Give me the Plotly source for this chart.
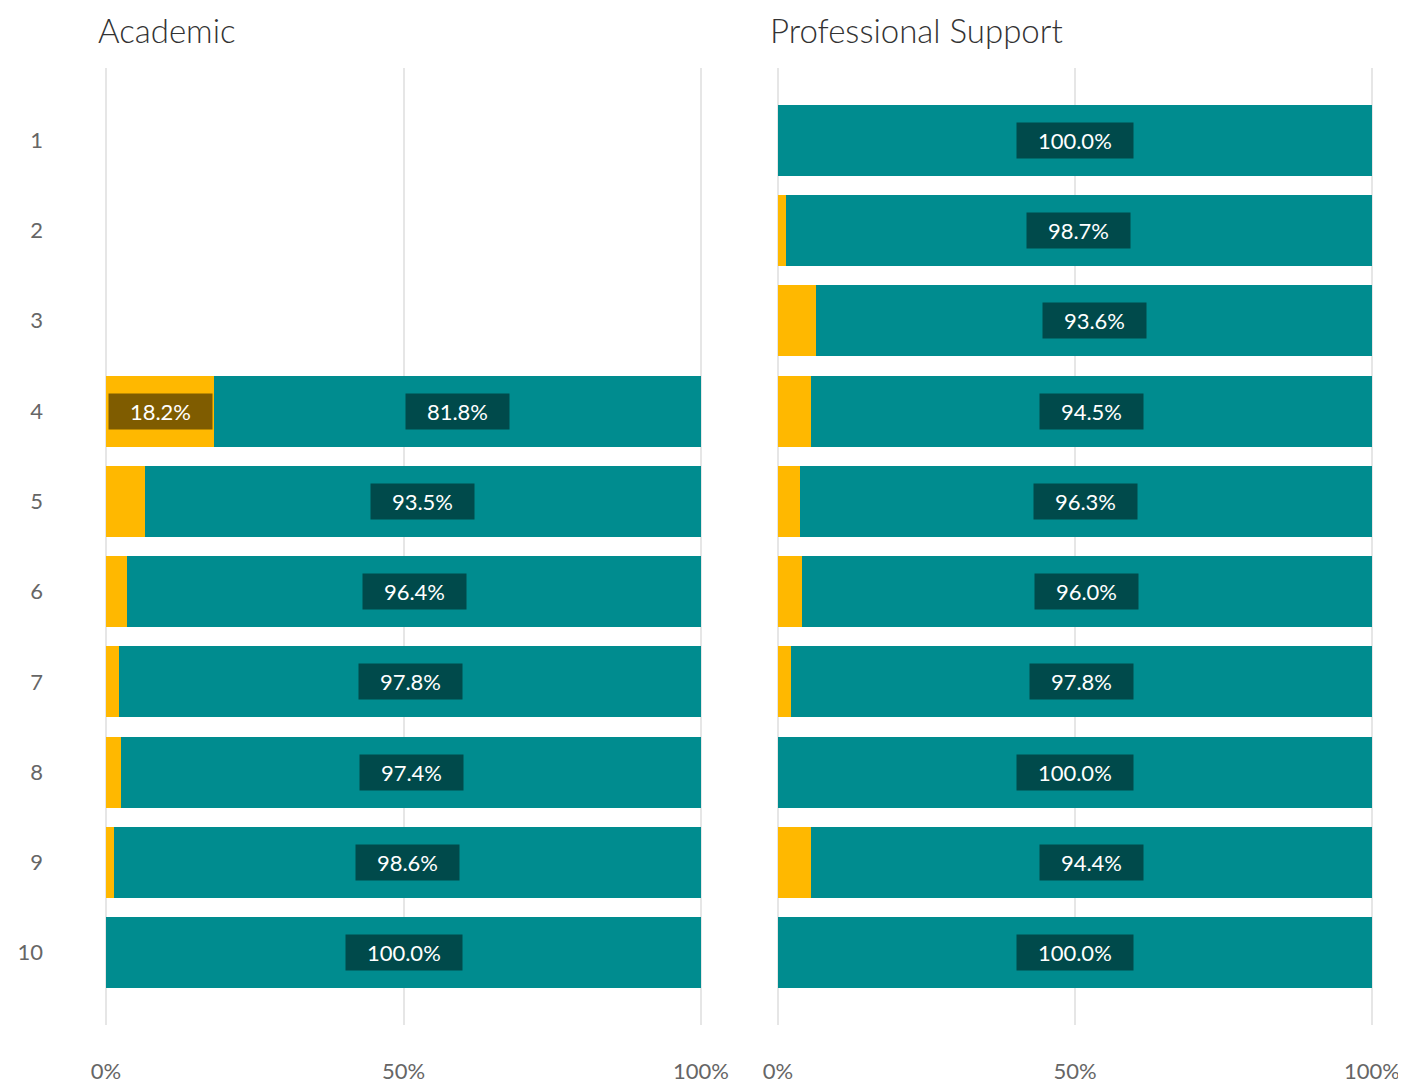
import plotly.graph_objects as go

categories = ["1", "2", "3", "4", "5", "6", "7", "8", "9", "10"]
academic_no = [None, None, None, 18.2, 6.5, 3.6, 2.2, 2.6, 1.4, 0.0]
academic_yes = [None, None, None, 81.8, 93.5, 96.4, 97.8, 97.4, 98.6, 100.0]
prof_no = [0.0, 1.3, 6.4, 5.5, 3.7, 4.0, 2.2, 0.0, 5.6, 0.0]
prof_yes = [100.0, 98.7, 93.6, 94.5, 96.3, 96.0, 97.8, 100.0, 94.4, 100.0]
panel_titles = ["Academic", "Professional Support"]
tick_vals = [0, 50, 100]
tick_text = ["0%", "50%", "100%"]

YELLOW = "#FFB800"
TEAL = "#008C8F"
TEAL_DARK = "#004A4B"
YELLOW_DARK = "#7F5C00"
FONT = "Lato"

OFF = 8  # page body margin
W, H = 1398, 1076
NB = "\u00a0\u00a0\u00a0"


def px(v):
    return (v - OFF) / W


def py(v):
    return 1 - (v - OFF) / H


fig = go.Figure()
panels = [
    (academic_no, academic_yes, "x", "y"),
    (prof_no, prof_yes, "x2", "y2"),
]

annotations = []
for no, yes, xa, ya in panels:
    fig.add_trace(go.Bar(y=categories, x=no, orientation="h", marker_color=YELLOW,
                         marker_line_width=0, xaxis=xa, yaxis=ya, showlegend=False,
                         hoverinfo="skip"))
    fig.add_trace(go.Bar(y=categories, x=yes, orientation="h", marker_color=TEAL,
                         marker_line_width=0, xaxis=xa, yaxis=ya, showlegend=False,
                         hoverinfo="skip"))
    for i, (n, y) in enumerate(zip(no, yes)):
        if y is None:
            continue
        annotations.append(dict(
            x=n + y / 2, y=i, xref=xa, yref=ya, text=f"{NB}{y:.1f}%{NB}", showarrow=False,
            bgcolor=TEAL_DARK, borderpad=4, font=dict(family=FONT, size=22, color="white")))
        if n >= 10:
            annotations.append(dict(
                x=n / 2, y=i, xref=xa, yref=ya, text=f"{NB}{n:.1f}%{NB}", showarrow=False,
                bgcolor=YELLOW_DARK, borderpad=4, font=dict(family=FONT, size=22, color="white")))

for title, xpos in zip(panel_titles, [96, 768]):
    annotations.append(dict(x=px(xpos), y=1, xref="paper", yref="paper", xanchor="left",
                            yanchor="top", text=title, showarrow=False,
                            font=dict(family=FONT, size=33, color="#333333", weight=300)))

# 0..100 maps to 106..701 (left) and 778..1372 (right); range padded by 1 unit
ppu_l = (701 - 106) / 100
ppu_r = (1372 - 778) / 100
xdom1 = [px(106 - ppu_l), px(701 + ppu_l)]
xdom2 = [px(778 - ppu_r), px(1372 + ppu_r)]
ydom = [py(1025), py(68)]

xcommon = dict(range=[-1, 101], tickvals=tick_vals, ticktext=tick_text, showgrid=True,
               gridcolor="#E6E6E6", gridwidth=2, zeroline=False, showline=False, ticks="",
               tickfont=dict(family=FONT, size=22, color="#666666"), ticklabelstandoff=31,
               automargin=False, fixedrange=True)
ycommon = dict(type="category", categoryorder="array", categoryarray=categories,
               range=[9.8, -0.8], showgrid=False, zeroline=False, showline=False, ticks="",
               tickfont=dict(family=FONT, size=22, color="#666666"), automargin=False,
               fixedrange=True)

fig.update_layout(
    width=W, height=H, margin=dict(l=0, r=0, t=0, b=0),
    template="none", paper_bgcolor="white", plot_bgcolor="white",
    barmode="stack", bargap=0.214,
    xaxis=dict(domain=xdom1, anchor="y", **xcommon),
    xaxis2=dict(domain=xdom2, anchor="y2", **xcommon),
    yaxis=dict(domain=ydom, anchor="x", ticklabelstandoff=56, **ycommon),
    yaxis2=dict(domain=ydom, anchor="x2", showticklabels=False, **ycommon),
    annotations=annotations,
    font=dict(family=FONT),
)

fig.write_html("out.html")
